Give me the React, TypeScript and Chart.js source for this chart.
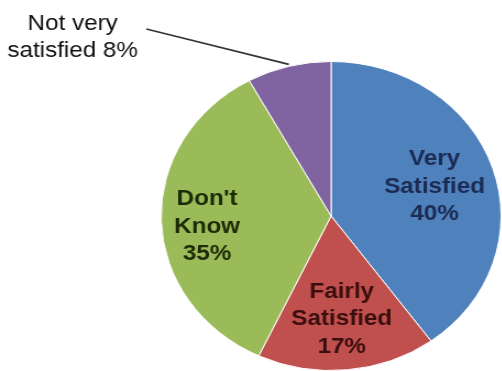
import React, { useEffect, useRef } from "react";
import { Chart, registerables } from "chart.js";

Chart.register(...registerables);

const categories = ["Very Satisfied", "Fairly Satisfied", "Don't Know", "Not very satisfied"];
const values = [40, 17, 35, 8];
const insideLabels = [["Very", "Satisfied", "40%"], ["Fairly", "Satisfied", "17%"], ["Don't", "Know", "35%"], null];
const calloutLabel = ["Not very", "satisfied 8%"];

const sliceColors = ["#4F81BD", "#C0504D", "#9BBB59", "#8064A2"];
const labelColors = ["#1B2B52", "#3A0E0E", "#1D2A08", "#222"];
const labelRadius = [0.64, 0.665, 0.73, 0.6];
const labelDy = [1, 1, 7, 0];

const STRETCH = 1.1;

const labelPlugin = {
  id: "pieLabels",
  afterDraw(chart: any) {
    const ctx = chart.ctx;
    const meta = chart.getDatasetMeta(0);
    ctx.save();
    meta.data.forEach((arc: any, i: number) => {
      const { x, y, startAngle, endAngle, outerRadius } = arc.getProps(
        ["x", "y", "startAngle", "endAngle", "outerRadius"],
        true
      );
      const mid = (startAngle + endAngle) / 2;
      const lines = insideLabels[i];
      if (lines) {
        const r = outerRadius * labelRadius[i];
        const cx = x + Math.cos(mid) * r;
        const cy = y + Math.sin(mid) * r + labelDy[i];
        ctx.font = "bold 22px 'Liberation Sans', Arial, sans-serif";
        ctx.fillStyle = labelColors[i];
        ctx.textAlign = "center";
        ctx.textBaseline = "middle";
        const lh = 27.5;
        lines.forEach((t, k) => {
          ctx.fillText(t, cx, cy + (k - (lines.length - 1) / 2) * lh);
        });
      } else {
        const ex = x + Math.cos(mid) * outerRadius;
        const ey = y + Math.sin(mid) * outerRadius;
        ctx.font = "22px 'Liberation Sans', Arial, sans-serif";
        ctx.fillStyle = "#111";
        ctx.textAlign = "center";
        ctx.textBaseline = "middle";
        const tx = 66;
        const ty = 37;
        const lh = 27;
        calloutLabel.forEach((t, k) => {
          ctx.fillText(t, tx, ty + (k - (calloutLabel.length - 1) / 2) * lh);
        });
        ctx.strokeStyle = "#333";
        ctx.lineWidth = 1.6;
        ctx.beginPath();
        ctx.moveTo(133, 29);
        ctx.lineTo(ex, ey - 2);
        ctx.stroke();
      }
    });
    ctx.restore();
  },
};

export default function App() {
  const ref = useRef<HTMLCanvasElement>(null);
  useEffect(() => {
    if (!ref.current) return;
    const chart = new Chart(ref.current, {
      type: "pie",
      data: {
        labels: categories,
        datasets: [
          {
            data: values,
            backgroundColor: sliceColors,
            borderColor: "#ffffff",
            borderWidth: 1,
          },
        ],
      },
      options: {
        animation: false,
        responsive: true,
        maintainAspectRatio: false,
        layout: { padding: { left: 146, right: 4, top: 61, bottom: 9 } },
        plugins: {
          legend: { display: false },
          tooltip: { enabled: false },
        },
      },
      plugins: [labelPlugin],
    });
    return () => chart.destroy();
  }, []);
  return (
    <div
      style={{
        position: "fixed",
        left: 0,
        top: 0,
        width: 502,
        height: 371,
        overflow: "hidden",
        background: "#fff",
      }}
    >
      <div
        style={{
          width: 460,
          height: 380,
          transform: `scaleX(${STRETCH})`,
          transformOrigin: "0 0",
          position: "relative",
        }}
      >
        <canvas ref={ref} />
      </div>
    </div>
  );
}
